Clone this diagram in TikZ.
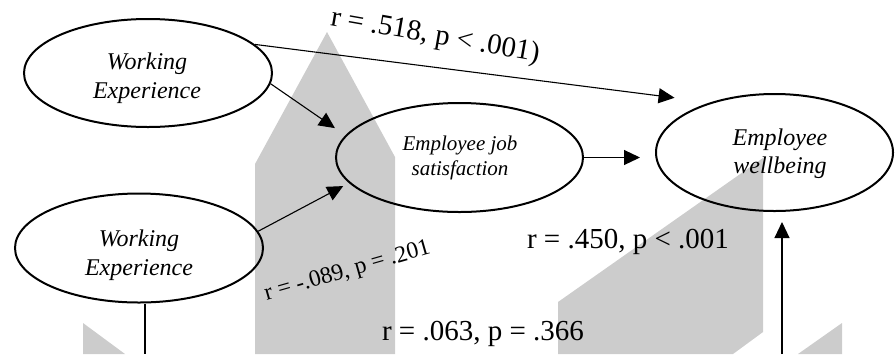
\documentclass[tikz,border=0pt]{standalone}
\usepackage{fontspec}
\setmainfont{Liberation Serif}
\usetikzlibrary{arrows.meta,shapes.geometric}
\definecolor{wm}{RGB}{204,204,204}
\begin{document}
\begin{tikzpicture}[x=1pt,y=-1pt,
  ell/.style={draw, ellipse, line width=2pt, inner sep=0pt},
  arr/.style={line width=1.1pt, -{Triangle[length=16pt,width=15pt]}},
  conn/.style={line width=1.1pt},
  etxt/.style={font=\itshape\fontsize{24}{29}\selectfont, align=center, inner sep=0pt},
  wtxt/.style={font=\itshape\fontsize{24}{28}\selectfont, align=center, inner sep=0pt},
  stxt/.style={font=\itshape\fontsize{21}{25}\selectfont, align=center, inner sep=0pt},
  lab/.style={font=\fontsize{29}{34}\selectfont, inner sep=0pt, anchor=base},
  labs/.style={font=\fontsize{23.5}{28}\selectfont, inner sep=0pt, anchor=base}]
\useasboundingbox (0,0) rectangle (896,354);
% watermark shapes
\fill[wm] (255,354) -- (255,164) -- (327,32) -- (395,157) -- (395,354) -- cycle;
\fill[wm] (558,354) -- (558,302) -- (763,158) -- (763,332) -- (733,354) -- cycle;
\fill[wm] (798,354) -- (842,323) -- (842,354) -- cycle;
\fill[wm] (83,354) -- (83,323) -- (125,354) -- cycle;
% ellipses
\node[ell, minimum width=248pt, minimum height=108pt] (we1) at (148,73) {};
\node[etxt] (we1t) at (147,78.5) {Working\\Experience};
\node[ell, minimum width=248pt, minimum height=109pt] (we2) at (139,248) {};
\node[etxt] (we2t) at (139,255) {Working\\Experience};
\node[ell, minimum width=247pt, minimum height=109pt] (js) at (459.5,157.5) {};
\node[stxt] (jst) at (460,157.5) {Employee job\\satisfaction};
\node[ell, minimum width=237pt, minimum height=117pt] (wb) at (774.5,152.5) {};
\node[wtxt] (wbt) at (780,153.4) {Employee\\wellbeing};
% connectors
\draw[arr, shorten >=36pt] (we1.15) -- (wb.142);
\draw[arr, shorten >=12.7pt] (we1.-5) -- (js.169);
\draw[arr, shorten >=6.5pt] (we2.8) -- (js.193);
\draw[arr, shorten >=15pt] (js.east) -- (js.east -| wb.west);
\coordinate (c1) at (782,354);
\draw[arr, shorten >=10pt] (c1) -- (c1 |- wb.south);
\coordinate (c2) at (145,354);
\draw[conn] (we2.south -| c2) -- (c2);
% labels
\node[lab, rotate=-10] (l1) at (434,43.5) {r = .518, p < .001)};
\node[labs, rotate=16] (l2) at (349,277) {r = -.089, p = .201};
\node[lab] (l3) at (628,248) {r = .450, p < .001};
\node[lab] (l4) at (483,340) {r = .063, p = .366};
\end{tikzpicture}
\end{document}
